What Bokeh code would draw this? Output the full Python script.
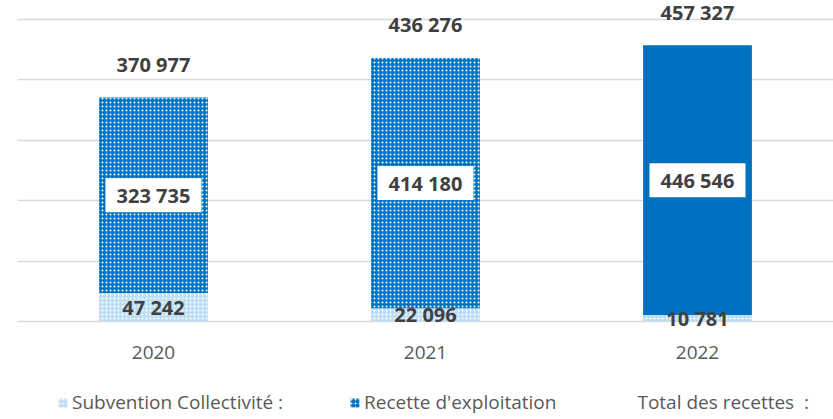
from bokeh.plotting import figure
from bokeh.models import (ColumnDataSource, FactorRange, Range1d, FixedTicker,
                          Legend, LegendItem)
from bokeh.core.properties import value
from bokeh.embed import file_html
from bokeh.resources import INLINE

years = ["2020", "2021", "2022"]
subvention = [47242, 22096, 10781]
recette = [323735, 414180, 446546]
total = [370977, 436276, 457327]
recette_hatch = ["dot", "dot", " "]
grid_values = [0, 100000, 200000, 300000, 400000, 500000]


def fmt(v):
    return f"{v:,}".replace(",", " ")


src = ColumnDataSource(dict(
    x=years,
    sub=subvention,
    sub_mid=[s / 2 for s in subvention],
    sub_lbl=[fmt(s) for s in subvention],
    rec_bottom=subvention,
    rec_top=[s + r for s, r in zip(subvention, recette)],
    rec_mid=[s + r / 2 for s, r in zip(subvention, recette)],
    rec_lbl=[fmt(r) for r in recette],
    rec_hatch=recette_hatch,
    total=total,
    tot_lbl=[fmt(t) for t in total],
))

FONT = "Open Sans"
p = figure(x_range=FactorRange(*years, range_padding=0),
           y_range=Range1d(-162250, 531450),
           width=833, height=419, output_backend="svg", toolbar_location=None,
           min_border_left=17, min_border_right=0, min_border_top=0,
           min_border_bottom=0)
p.outline_line_color = None
p.background_fill_color = "white"
p.border_fill_color = "white"

p.yaxis.visible = False
p.yaxis.ticker = FixedTicker(ticks=grid_values)
p.ygrid.ticker = FixedTicker(ticks=grid_values)
p.ygrid.grid_line_color = "#D9D9D9"
p.ygrid.grid_line_width = 1.5
p.xgrid.grid_line_color = None

p.xaxis.fixed_location = 0
p.xaxis.axis_line_color = None
p.xaxis.major_tick_line_color = None
p.xaxis.major_tick_out = 0
p.xaxis.major_tick_in = 0
p.xaxis.major_label_standoff = 25
p.xaxis.major_label_text_font = FONT
p.xaxis.major_label_text_font_size = "19px"
p.xaxis.major_label_text_color = "#595959"

W = 0.40
r_sub = p.vbar(x="x", top="sub", bottom=0, width=W, source=src,
               fill_color="#BDDDF5", line_color=None,
               hatch_pattern="dot", hatch_color="white", hatch_scale=4,
               hatch_weight=1.5)
r_rec = p.vbar(x="x", top="rec_top", bottom="rec_bottom", width=W, source=src,
               fill_color="#0070C0", line_color=None,
               hatch_pattern="rec_hatch", hatch_color="white", hatch_scale=4,
               hatch_weight=1.5)
r_tot = p.vbar(x="x", top="total", bottom=0, width=W, source=src,
               fill_alpha=0, line_alpha=0)

# labels
p.rect(x="x", y="rec_mid", width=96, height=34, width_units="screen",
       height_units="screen", source=src, fill_color="white", line_color=None)
lbl_kw = dict(text_font=value(FONT), text_font_style="bold",
              text_font_size="20px", text_color="#404040",
              text_align="center", text_baseline="middle")
p.text(x="x", y="rec_mid", text="rec_lbl", source=src, **lbl_kw)
p.text(x="x", y="sub_mid", text="sub_lbl", source=src, **lbl_kw)
p.text(x="x", y="total", text="tot_lbl", source=src, y_offset=-33, **lbl_kw)

legend = Legend(items=[
    LegendItem(label="Subvention Collectivité :", renderers=[r_sub]),
    LegendItem(label="Recette d'exploitation", renderers=[r_rec], index=0),
    LegendItem(label="Total des recettes  :", renderers=[r_tot]),
], orientation="horizontal", spacing=66, label_standoff=4,
    glyph_width=11, glyph_height=11, border_line_color=None,
    background_fill_alpha=0, label_text_font=FONT,
    label_text_font_size="19px", label_text_color="#595959",
    margin=0, padding=0, location=(40, 4))
p.add_layout(legend, "center")

open("out.html", "w").write(file_html(p, INLINE))
